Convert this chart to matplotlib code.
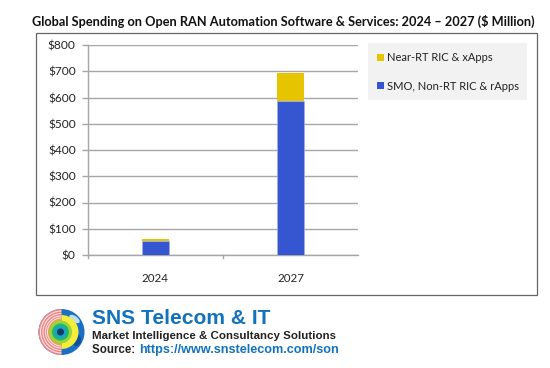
import matplotlib
matplotlib.use("Agg")
import matplotlib.pyplot as plt
from matplotlib.patches import Rectangle, Circle, Wedge, Ellipse

years = ["2024", "2027"]
smo_values = [53, 587]
near_rt_values = [7, 108]
y_ticks = [0, 100, 200, 300, 400, 500, 600, 700, 800]
series_names = ["Near-RT RIC & xApps", "SMO, Non-RT RIC & rApps"]
title = "Global Spending on Open RAN Automation Software & Services: 2024 \u2013 2027 ($ Million)"

W, H = 550, 368
FONT = ["Lato", "Open Sans", "DejaVu Sans"]
BLUE, YEL, GRID, TXT = "#3556D0", "#E6C400", "#A6A6A6", "#222222"

fig = plt.figure(figsize=(W / 100, H / 100), dpi=100, facecolor="white")
bg = fig.add_axes([0, 0, 1, 1], zorder=0)
bg.set_xlim(0, W); bg.set_ylim(H, 0); bg.axis("off")

bg.add_patch(Rectangle((35.5, 32.5), 501, 262.5, fc="white", ec="#666666", lw=0.9))
bg.text(283.5, 21, title, ha="center", va="center", fontsize=9.17, fontweight="bold",
        family=FONT, color="#111111")

# Legend panel
bg.add_patch(Rectangle((368, 43), 159, 57, fc="#F2F2F2", ec="none"))
bg.add_patch(Rectangle((377, 54), 7, 7, fc=YEL, ec="none"))
bg.add_patch(Rectangle((377, 82), 7, 7, fc=BLUE, ec="none"))
bg.text(387, 57.5, series_names[0], va="center", fontsize=8.05, family=FONT, color=TXT)
bg.text(387, 86, series_names[1], va="center", fontsize=8.05, family=FONT, color=TXT)

# Chart
ax = fig.add_axes([87.5 / W, 1 - 255 / H, 270.5 / W, 210 / H], zorder=1)
ax.patch.set_alpha(0)
x = [0, 1]
ax.bar(x, smo_values, width=0.2, color=BLUE, edgecolor="#9DB0EA", linewidth=0.5, zorder=3)
ax.bar(x, near_rt_values, bottom=smo_values, width=0.2, color=YEL, edgecolor="none", zorder=3)
ax.set_xlim(-0.5, 1.5)
ax.set_ylim(0, 800)
ax.set_yticks(y_ticks)
ax.set_yticklabels([f"${v}" for v in y_ticks], family=FONT, fontsize=8.6, color=TXT)
ax.set_xticks(x)
ax.set_xticklabels(years, family=FONT, fontsize=8.3, color=TXT)
ax.grid(axis="y", color=GRID, lw=1.0, zorder=1)
ax.set_axisbelow(True)
for s in ("top", "right"):
    ax.spines[s].set_visible(False)
for s in ("left", "bottom"):
    ax.spines[s].set_color(GRID)
    ax.spines[s].set_linewidth(1.0)
ax.tick_params(axis="y", length=4.5, width=1.0, color=GRID, pad=4)
ax.tick_params(axis="x", length=0, pad=13)
for xt in (-0.5, 0.5):
    ax.plot([xt, xt], [0, -0.014], transform=ax.get_xaxis_transform(), color=GRID,
            lw=1.0, clip_on=False)

# Logo
cx, cy = 61.5, 332
bg.add_patch(Circle((cx, cy), 23, fc="#1B6FC4", ec="none"))
bg.add_patch(Wedge((cx, cy), 23, 90, 270, fc="#F08A8A", ec="none"))
for r in (21.5, 19, 16.5, 14.5):
    bg.add_patch(Wedge((cx, cy), r, 90, 270, width=1.0, fc="#FDE6E6", ec="none"))
bg.add_patch(Ellipse((cx + 13, cy - 13), 12, 6, angle=35, fc="#BFDDF2", ec="none"))
bg.add_patch(Ellipse((cx + 15, cy + 8), 9, 12, fc="#0F4F9E", ec="none"))
bg.add_patch(Wedge((cx, cy), 17, -90, 90, fc="#F2EE3A", ec="none"))
bg.add_patch(Wedge((cx, cy), 13, 90, 270, fc="#F4A62A", ec="none"))
for r, c in ((11.5, "#9AD43C"), (8.5, "#22B573"), (6, "#18A3C4"), (3.5, "#123A66")):
    bg.add_patch(Circle((cx - 1, cy), r, fc=c, ec="none"))

bg.text(92, 318, "SNS Telecom & IT", va="center", fontsize=15.1, fontweight="bold",
        family="Liberation Sans", color="#1273BC")
bg.text(92.5, 336, "Market Intelligence & Consultancy Solutions", va="center", fontsize=8.25,
        fontweight="bold", family="Liberation Sans", color="#222222")
bg.text(92.5, 353, "Source: ", va="baseline", fontsize=8.3, fontweight="bold",
        family="Liberation Sans", color="#222222")
bg.text(138.7, 353, "https://www.snstelecom.com/son", va="baseline", fontsize=9.1,
        fontweight="bold", family="Liberation Sans", color="#1273BC")

fig.savefig("out.png", dpi=100)
